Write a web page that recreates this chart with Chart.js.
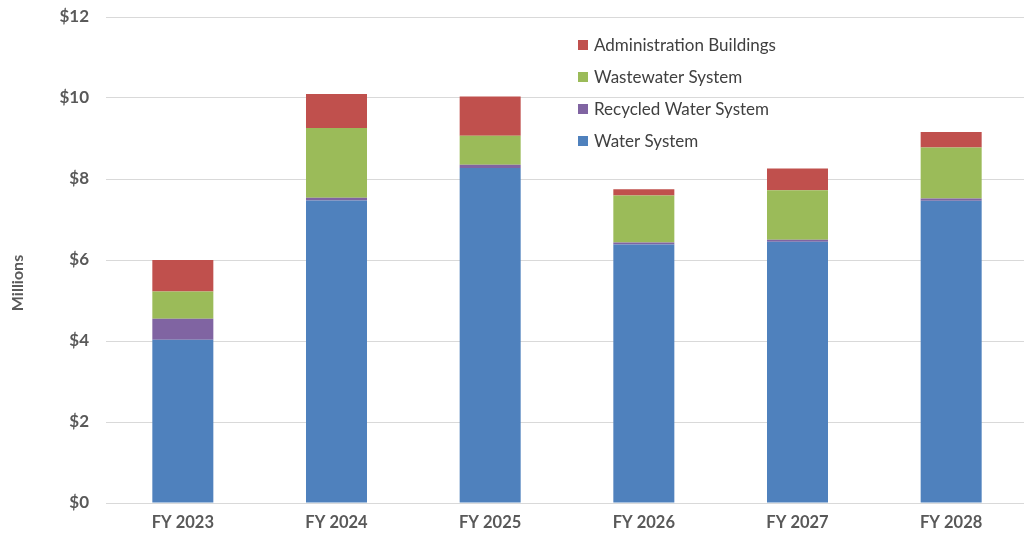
<!DOCTYPE html>
<html>
<head>
<meta charset="utf-8">
<script src="https://cdn.jsdelivr.net/npm/chart.js@4.4.0/dist/chart.umd.min.js"></script>
<style>
  html, body { margin: 0; padding: 0; background: #fff; overflow: hidden; }
  #wrap { position: absolute; left: 0; top: 0; width: 1030px; height: 535px; }
</style>
</head>
<body>
<div id="wrap"><canvas id="chart"></canvas></div>
<script>
// values in $ millions
var years = ['FY 2023', 'FY 2024', 'FY 2025', 'FY 2026', 'FY 2027', 'FY 2028']
var waterSystem = [4.03, 7.47, 8.27, 6.38, 6.45, 7.46]
var recycledWater = [0.52, 0.07, 0.08, 0.05, 0.05, 0.06]
var wastewater = [0.67, 1.72, 0.72, 1.16, 1.22, 1.26]
var adminBuildings = [0.78, 0.84, 0.97, 0.16, 0.54, 0.38]
var yTicks = [0, 2, 4, 6, 8, 10, 12]
var yTitle = 'Millions'

var font = 'Lato, "Open Sans", sans-serif'

// legend drawn by hand: one column inside the plot, top series first
// plus the rotated axis title, which sits a bit below the middle in the original
var extras = {
  id: 'extras',
  afterDraw: function(chart){
    var ctx = chart.ctx
    var sets = chart.data.datasets.slice().reverse()
    ctx.save()
    ctx.font = '17px ' + font
    ctx.textBaseline = 'middle'
    sets.forEach(function(ds, i){
      var y = 45 + i * 32
      ctx.fillStyle = ds.backgroundColor
      ctx.fillRect(578, y - 5, 10, 10)
      ctx.fillStyle = '#404040'
      ctx.fillText(ds.label, 594, y + 1)
    })
    ctx.restore()

    ctx.save()
    ctx.translate(18, 283)
    ctx.rotate(-Math.PI / 2)
    ctx.font = 'bold 16px ' + font
    ctx.fillStyle = '#595959'
    ctx.textAlign = 'center'
    ctx.textBaseline = 'middle'
    ctx.fillText(yTitle, 0, 0)
    ctx.restore()
  }
}

const data = {
  labels: years,
  datasets: [
    { label: 'Water System', data: waterSystem, backgroundColor: '#4F81BD' },
    { label: 'Recycled Water System', data: recycledWater, backgroundColor: '#8064A2' },
    { label: 'Wastewater System', data: wastewater, backgroundColor: '#9BBB59' },
    { label: 'Administration Buildings', data: adminBuildings, backgroundColor: '#C0504D' }
  ]
}

const config = {
  type: 'bar',
  data,
  options: {
    responsive: true,
    maintainAspectRatio: false,
    animation: { duration: 0 },
    datasets: { bar: { barPercentage: 0.397, categoryPercentage: 1.0 } },
    layout: { padding: { top: 17, right: 2, left: 0, bottom: 0 } },
    plugins: {
      legend: { display: false },
      tooltip: { enabled: false }
    },
    scales: {
      x: {
        stacked: true,
        grid: { display: false, drawTicks: false },
        border: { display: false },
        ticks: { color: '#595959', font: { family: font, size: 16.5, weight: 'bold' }, padding: 10, maxRotation: 0 },
        afterFit: function(scale){ scale.height = 32; scale.paddingLeft = 0; scale.paddingRight = 0 }
      },
      y: {
        stacked: true,
        min: 0,
        max: 12,
        afterBuildTicks: function(scale){
          scale.ticks = yTicks.map(function(v){ return { value: v } })
        },
        grid: { color: '#D9D9D9', lineWidth: 1, drawTicks: false },
        border: { display: false },
        ticks: {
          color: '#595959',
          font: { family: font, size: 17, weight: 'bold' },
          padding: 17,
          callback: function(v){ return '$' + v }
        },
        afterFit: function(scale){ scale.width = 106; scale.paddingTop = 0; scale.paddingBottom = 0 }
      }
    }
  },
  plugins: [extras]
}

var chart = new Chart(document.getElementById('chart'), config)
</script>
</body>
</html>
